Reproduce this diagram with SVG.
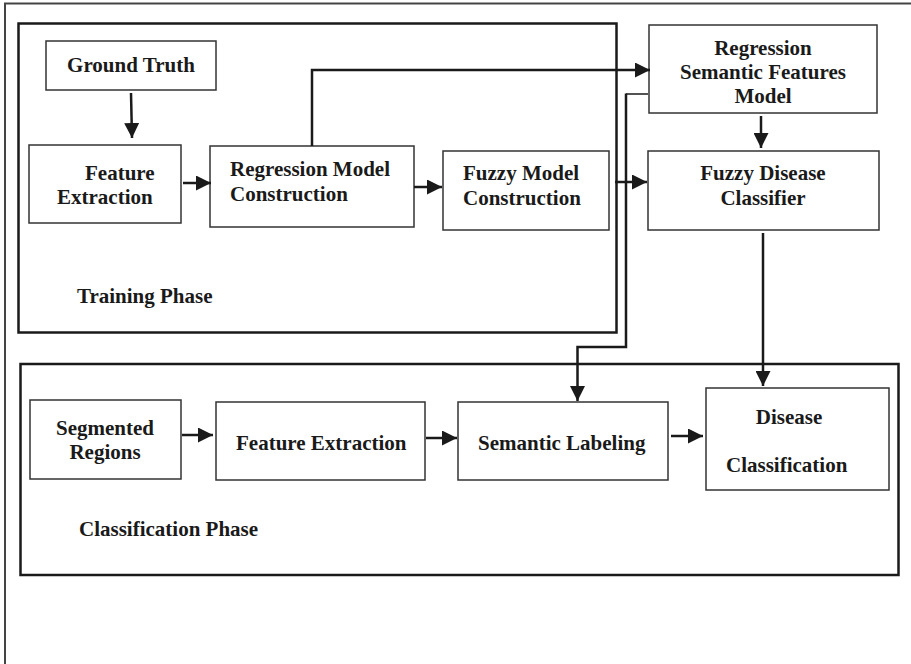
<svg xmlns="http://www.w3.org/2000/svg" width="911" height="664" viewBox="0 0 911 664">
<style>
.box{fill:#fff;stroke:#333;stroke-width:1.5}
.phase{fill:none;stroke:#1a1a1a;stroke-width:2.5}
.t{font-family:"Liberation Serif","Times New Roman",serif;font-weight:bold;font-size:21px;fill:#1a1a1a}
.c{fill:none;stroke:#1a1a1a;stroke-width:2.5}
.thin{fill:none;stroke:#1a1a1a;stroke-width:1.5}
</style>
<defs>
<marker id="ah" markerUnits="userSpaceOnUse" markerWidth="15" markerHeight="15" refX="14" refY="7" orient="auto" viewBox="0 0 14 14">
<path d="M0,0 L14,7 L0,14 z" fill="#1a1a1a"/>
</marker>
</defs>
<rect width="911" height="664" fill="#fff"/>
<path d="M5,664 V3.5 H911" fill="none" stroke="#444" stroke-width="2"/>
<g id="training-phase">
<rect class="phase" x="18.5" y="23.5" width="598" height="309"/>
<text class="t" x="77" y="303">Training Phase</text>
</g>
<g id="classification-phase">
<rect class="phase" x="20.5" y="364" width="878" height="211"/>
<text class="t" x="79" y="536">Classification Phase</text>
</g>
<g id="ground-truth">
<rect class="box" x="46" y="41" width="170" height="49"/>
<text class="t" x="131" y="72" text-anchor="middle">Ground Truth</text>
</g>
<g id="feature-extraction-1">
<rect class="box" x="29" y="145" width="152" height="78"/>
<text class="t" x="85" y="180">Feature</text>
<text class="t" x="57" y="204">Extraction</text>
</g>
<g id="regression-model">
<rect class="box" x="210" y="146" width="204" height="81"/>
<text class="t" x="230" y="176">Regression Model</text>
<text class="t" x="230" y="201">Construction</text>
</g>
<g id="fuzzy-model">
<rect class="box" x="443" y="151" width="166" height="79"/>
<text class="t" x="463" y="180">Fuzzy Model</text>
<text class="t" x="463" y="205">Construction</text>
</g>
<g id="regression-semantic">
<rect class="box" x="649" y="25" width="228" height="88"/>
<text class="t" x="763" y="55" text-anchor="middle">Regression</text>
<text class="t" x="763" y="79" text-anchor="middle">Semantic Features</text>
<text class="t" x="763" y="103" text-anchor="middle">Model</text>
</g>
<g id="fuzzy-classifier">
<rect class="box" x="648" y="151" width="231" height="79"/>
<text class="t" x="763" y="180" text-anchor="middle">Fuzzy Disease</text>
<text class="t" x="763" y="205" text-anchor="middle">Classifier</text>
</g>
<g id="segmented-regions">
<rect class="box" x="30" y="400" width="151" height="79"/>
<text class="t" x="105" y="435" text-anchor="middle">Segmented</text>
<text class="t" x="105" y="459" text-anchor="middle">Regions</text>
</g>
<g id="feature-extraction-2">
<rect class="box" x="216" y="402" width="209" height="78"/>
<text class="t" x="236" y="450">Feature Extraction</text>
</g>
<g id="semantic-labeling">
<rect class="box" x="458" y="402" width="210" height="78"/>
<text class="t" x="478" y="450">Semantic Labeling</text>
</g>
<g id="disease-classification">
<rect class="box" x="706" y="388" width="183" height="102"/>
<text class="t" x="789" y="424" text-anchor="middle">Disease</text>
<text class="t" x="726" y="472">Classification</text>
</g>
<g id="connectors">
<line class="c" x1="131" y1="93" x2="132" y2="138" marker-end="url(#ah)"/>
<line class="c" x1="183" y1="183" x2="211" y2="183" marker-end="url(#ah)"/>
<line class="c" x1="414" y1="187" x2="442" y2="187" marker-end="url(#ah)"/>
<path class="c" d="M312,146 V70 H650" marker-end="url(#ah)"/>
<line class="c" x1="761" y1="116" x2="761" y2="148" marker-end="url(#ah)"/>
<line class="c" x1="615" y1="182" x2="647" y2="182" marker-end="url(#ah)"/>
<path class="thin" d="M648,94 H626"/>
<path class="c" d="M626,93.5 V347 H577.5 V401" marker-end="url(#ah)"/>
<line class="c" x1="763" y1="233" x2="763" y2="386" marker-end="url(#ah)"/>
<line class="c" x1="182" y1="435" x2="213" y2="435" marker-end="url(#ah)"/>
<line class="c" x1="426" y1="438" x2="457" y2="438" marker-end="url(#ah)"/>
<line class="c" x1="671" y1="436" x2="703" y2="436" marker-end="url(#ah)"/>
</g>
</svg>
